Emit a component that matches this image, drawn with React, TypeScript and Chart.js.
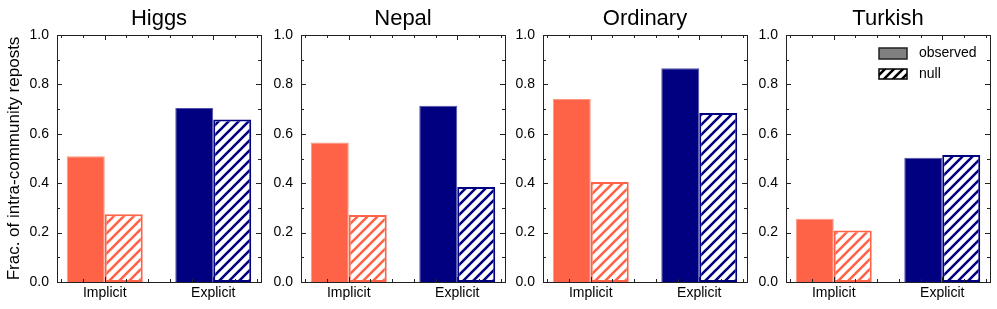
import React, { useEffect, useRef } from 'react';
import { Chart, registerables } from 'chart.js';

Chart.register(...registerables);

// ---------------- data ----------------
const categories = ['Implicit', 'Explicit'];
const panelTitles = ['Higgs', 'Nepal', 'Ordinary', 'Turkish'];

const higgsObserved = [0.509, 0.704];
const higgsNull = [0.274, 0.658];
const nepalObserved = [0.565, 0.714];
const nepalNull = [0.271, 0.385];
const ordinaryObserved = [0.741, 0.865];
const ordinaryNull = [0.405, 0.684];
const turkishObserved = [0.256, 0.503];
const turkishNull = [0.209, 0.514];

const yTickValues = [0, 0.2, 0.4, 0.6, 0.8, 1.0];
const legendLabels = ['observed', 'null'];
const yAxisTitle = 'Frac. of intra-community reposts';

const observedSeries = [higgsObserved, nepalObserved, ordinaryObserved, turkishObserved];
const nullSeries = [higgsNull, nepalNull, ordinaryNull, turkishNull];

// ---------------- layout / style ----------------
const FONT = '"Liberation Sans", Arial, Helvetica, sans-serif';
const CORAL = '#FF6347';
const NAVY = '#000080';
const PANEL_LEFTS = [57, 301, 543, 786];
const PANEL_WIDTH = 204;
const AXIS_W = 57;
const CANVAS_H = 309;
const PLOT_TOP = 35;
const XAXIS_H = 27;

function makeHatch(color: string, size = 10, lw = 2.6, bg = '#ffffff'): CanvasPattern | string {
  const c = document.createElement('canvas');
  c.width = size;
  c.height = size;
  const g = c.getContext('2d');
  if (!g) return color;
  g.fillStyle = bg;
  g.fillRect(0, 0, size, size);
  g.strokeStyle = color;
  g.lineWidth = lw;
  g.lineCap = 'square';
  g.beginPath();
  g.moveTo(0, size);
  g.lineTo(size, 0);
  g.moveTo(-size / 2, size / 2);
  g.lineTo(size / 2, -size / 2);
  g.moveTo(size / 2, size * 1.5);
  g.lineTo(size * 1.5, size / 2);
  g.stroke();
  const p = g.createPattern(c, 'repeat');
  return p || color;
}

function makeFramePlugin(index: number) {
  return {
    id: 'frameTicks' + index,
    afterDraw(chart: any) {
      const { ctx, chartArea } = chart;
      const xs = chart.scales.x;
      const ys = chart.scales.y;
      const { left, right, top, bottom } = chartArea;
      ctx.save();
      ctx.strokeStyle = '#222222';
      ctx.lineWidth = 1;
      // ticks
      ctx.beginPath();
      for (let i = 0; i <= 10; i++) {
        const v = i / 10;
        const py = Math.round(ys.getPixelForValue(v)) + 0.5;
        const len = i % 2 === 0 ? 5 : 3;
        ctx.moveTo(left, py);
        ctx.lineTo(left + len, py);
        ctx.moveTo(right, py);
        ctx.lineTo(right - len, py);
      }
      for (let i = -2; i <= 7; i++) {
        const v = i * 0.2;
        const px = Math.round(xs.getPixelForValue(v)) + 0.5;
        const len = i % 5 === 0 ? 5 : 3;
        ctx.moveTo(px, bottom);
        ctx.lineTo(px, bottom - len);
        ctx.moveTo(px, top);
        ctx.lineTo(px, top + len);
      }
      ctx.stroke();
      // frame
      ctx.strokeRect(Math.round(left) + 0.5, Math.round(top) + 0.5, Math.round(right - left), Math.round(bottom - top));

      // panel title
      ctx.fillStyle = '#000000';
      ctx.font = `22px ${FONT}`;
      ctx.textAlign = 'center';
      ctx.textBaseline = 'alphabetic';
      ctx.fillText(panelTitles[index], (left + right) / 2, 24.5);

      // legend (last panel)
      if (index === 3) {
        const bx = right - 111;
        const bw = 28;
        const rows = [
          { y: 48, h: 11 },
          { y: 69, h: 10 },
        ];
        ctx.lineWidth = 1.5;
        ctx.fillStyle = '#808080';
        ctx.fillRect(bx, rows[0].y, bw, rows[0].h);
        ctx.strokeStyle = '#222222';
        ctx.strokeRect(bx, rows[0].y, bw, rows[0].h);
        ctx.fillStyle = makeHatch('#000000', 9, 2.6);
        ctx.fillRect(bx, rows[1].y, bw, rows[1].h);
        ctx.strokeStyle = '#000000';
        ctx.strokeRect(bx, rows[1].y, bw, rows[1].h);
        ctx.fillStyle = '#000000';
        ctx.font = `14px ${FONT}`;
        ctx.textAlign = 'left';
        ctx.textBaseline = 'middle';
        ctx.fillText(legendLabels[0], bx + 40, rows[0].y + rows[0].h / 2);
        ctx.fillText(legendLabels[1], bx + 40, rows[1].y + rows[1].h / 2);
      }
      ctx.restore();
    },
  };
}

function Panel({ index }: { index: number }) {
  const ref = useRef<HTMLCanvasElement | null>(null);
  const width = AXIS_W + PANEL_WIDTH + 2;

  useEffect(() => {
    if (!ref.current) return;
    const obs = observedSeries[index];
    const nul = nullSeries[index];
    const chart = new Chart(ref.current, {
      type: 'bar',
      data: {
        datasets: [
          {
            label: legendLabels[0],
            data: obs.map((v, i) => ({ x: i, y: v })),
            backgroundColor: [CORAL, NAVY],
            borderColor: ['rgba(255,150,130,1)', 'rgba(80,80,170,1)'],
            borderWidth: 1,
            borderSkipped: 'bottom',
            categoryPercentage: 0.7,
            barPercentage: 1.0,
          },
          {
            label: legendLabels[1],
            data: nul.map((v, i) => ({ x: i, y: v })),
            backgroundColor: [makeHatch(CORAL), makeHatch(NAVY)],
            borderColor: [CORAL, NAVY],
            borderWidth: 2,
            borderSkipped: false,
            categoryPercentage: 0.7,
            barPercentage: 1.0,
          },
        ] as any,
      },
      options: {
        responsive: false,
        animation: false,
        layout: { padding: { top: PLOT_TOP, right: 2, left: 0, bottom: 0 } },
        plugins: {
          legend: { display: false },
          tooltip: { enabled: false },
          title: { display: false },
        },
        scales: {
          x: {
            type: 'linear',
            min: -0.44,
            max: 1.44,
            offset: false,
            afterBuildTicks: (s: any) => {
              s.ticks = categories.map((_, i) => ({ value: i }));
            },
            afterFit: (s: any) => {
              s.height = XAXIS_H;
            },
            ticks: {
              callback: (v: any) => categories[Math.round(Number(v))] ?? '',
              font: { family: FONT, size: 14 },
              color: '#000000',
              padding: 3,
              maxRotation: 0,
              autoSkip: false,
            },
            grid: { display: false, drawTicks: false },
            border: { display: false },
          },
          y: {
            type: 'linear',
            min: 0,
            max: 1,
            afterBuildTicks: (s: any) => {
              s.ticks = yTickValues.map((v) => ({ value: v }));
            },
            afterFit: (s: any) => {
              s.width = AXIS_W;
            },
            ticks: {
              callback: (v: any) => Number(v).toFixed(1),
              font: { family: FONT, size: 14 },
              color: '#000000',
              padding: 8,
            },
            grid: { display: false, drawTicks: false },
            border: { display: false },
            title:
              index === 0
                ? {
                    display: true,
                    text: yAxisTitle,
                    font: { family: FONT, size: 17 },
                    color: '#000000',
                    padding: { top: 4, bottom: 0 },
                  }
                : { display: false },
          },
        },
      } as any,
      plugins: [makeFramePlugin(index)],
    });
    return () => chart.destroy();
  }, [index]);

  return (
    <canvas
      ref={ref}
      width={width}
      height={CANVAS_H}
      style={{ position: 'absolute', left: PANEL_LEFTS[index] - AXIS_W, top: 0, width, height: CANVAS_H }}
    />
  );
}

export default function App() {
  return (
    <div style={{ position: 'absolute', left: 0, top: 0, width: 997, height: 309, background: '#ffffff', overflow: 'hidden' }}>
      {panelTitles.map((_, i) => (
        <Panel key={i} index={i} />
      ))}
    </div>
  );
}
